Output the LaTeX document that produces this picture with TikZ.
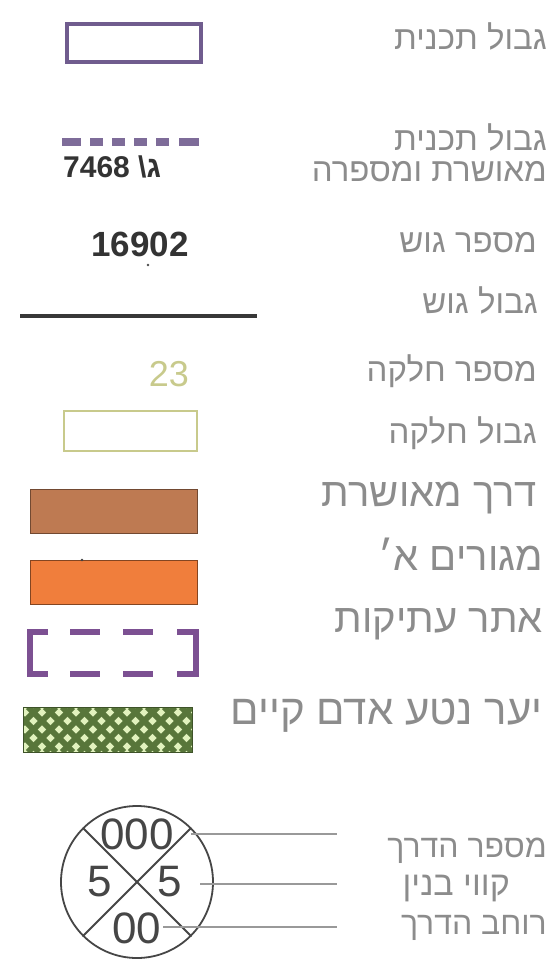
\documentclass[tikz,border=0pt]{standalone}
\usepackage{fontspec}
\setmainfont{Liberation Sans}
\newfontfamily\hebfont[Script=Hebrew]{Liberation Sans}
\TeXXeTstate=1
\usepackage{xcolor}
\definecolor{planviolet}{RGB}{112,92,142}
\definecolor{antiqviolet}{RGB}{124,80,146}
\definecolor{parcelolive}{RGB}{200,202,140}
\definecolor{roadbrown}{RGB}{190,122,82}
\definecolor{resorange}{RGB}{240,126,60}
\definecolor{forestgreen}{RGB}{88,118,58}
\definecolor{forestlight}{RGB}{226,242,190}
\definecolor{labelgray}{RGB}{140,140,140}
\definecolor{signgray}{RGB}{70,70,70}

\begin{document}
\begin{tikzpicture}[x=1pt,y=-1pt,line join=miter,
  heb/.style={anchor=base east,inner sep=0pt,text=labelgray,font=\hebfont\fontsize{33}{31}\selectfont},
  hebbig/.style={heb,font=\hebfont\fontsize{40}{40}\selectfont},
  swatch/.style={rectangle,inner sep=0pt,outer sep=0pt},
  signnum/.style={inner sep=0pt,text=signgray,font=\fontsize{44}{44}\selectfont},
  leader/.style={gray!80,line width=1.4pt}]
\useasboundingbox[fill=white] (0,0) rectangle (557,963);
\node[swatch,draw=planviolet,line width=4.5pt,minimum width=134,minimum height=38] (plan) at (134,43) {};
\node[heb] (lplan) at (547,50) {\beginR גבול תכנית\endR};
\draw[planviolet!90,line width=8pt,dash pattern=on 19pt off 9pt on 13pt off 9pt on 13pt off 9pt on 13pt off 9pt on 13pt off 10pt on 20pt] (62,142) -- (199,142);
\node[anchor=base west,inner sep=0pt,text=black!80,font=\bfseries\fontsize{30}{30}\selectfont] (planno) at (63,177) {\beginR ג\textbackslash\ \beginL 7468\endL\endR};
\node[heb,align=right] (lapproved) at (547,181) {\beginR גבול תכנית\endR\\\beginR מאושרת ומספרה\endR};
\node[inner sep=0pt,text=black!80,font=\bfseries\fontsize{35}{35}\selectfont] (blockno) at (140,244) {16902};
\fill[black!70] (148,265) circle (1.3);
\node[heb] (lblockno) at (537,252) {\beginR מספר גוש\endR};
\draw[black!78,line width=3.5pt] (20,316) -- (257,316);
\node[heb] (lblock) at (538,313) {\beginR גבול גוש\endR};
\node[inner sep=0pt,text=parcelolive,font=\fontsize{36}{36}\selectfont] (parcelno) at (169,374) {23};
\node[heb] (lparcelno) at (537,381) {\beginR מספר חלקה\endR};
\node[swatch,draw=parcelolive,line width=1.5pt,minimum width=133,minimum height=40] (parcel) at (130.5,431) {};
\node[heb] (lparcel) at (537,443) {\beginR גבול חלקה\endR};
\node[swatch,fill=roadbrown,draw=roadbrown!60!black,line width=1pt,minimum width=167,minimum height=44] (road) at (113.5,511) {};
\node[hebbig] (lroad) at (537,506) {\beginR דרך מאושרת\endR};
\node[swatch,fill=resorange,draw=resorange!55!black,line width=1pt,minimum width=167,minimum height=44] (resid) at (113.5,582) {};
\fill[black!75] (82,560) circle (1.3);
\node[hebbig] (lresid) at (543,570) {\beginR מגורים א׳\endR};
\draw[antiqviolet,line width=6pt] (48,632) -- (30,632) -- (30,674) -- (48,674);
\draw[antiqviolet,line width=6pt] (177,632) -- (196,632) -- (196,674) -- (177,674);
\foreach \y in {632,674}{
  \draw[antiqviolet,line width=6pt] (70,\y) -- (100,\y);
  \draw[antiqviolet,line width=6pt] (123,\y) -- (153,\y);
}
\node[hebbig] (lantiq) at (543,632) {\beginR אתר עתיקות\endR};
\begin{scope}
\clip (23,707) rectangle (192,752);
\fill[forestlight] (23,707) rectangle (192,752);
\foreach \k in {-40,-23,...,200}{
  \draw[forestgreen,line width=5.8pt] (\k,707) -- ++(45,45);
  \draw[forestgreen,line width=5.8pt] (\k,752) -- ++(45,-45);
}
\end{scope}
\draw[forestgreen!70!black,line width=1pt] (23,707) rectangle (192,752);
\node[hebbig,font=\hebfont\fontsize{42}{42}\selectfont] (lforest) at (543,724) {\beginR יער נטע אדם קיים\endR};
\node[draw=signgray,line width=1.8pt,circle,minimum size=152,inner sep=0pt] (sign) at (137,882) {};
\draw[signgray,line width=1.8pt] (sign.north west) -- (sign.south east);
\draw[signgray,line width=1.8pt] (sign.north east) -- (sign.south west);
\node[signnum] (roadno) at (137,834) {000};
\node[signnum] (setbackl) at (100,882) {5};
\node[signnum] (setbackr) at (170,882) {5};
\node[signnum] (roadwidth) at (137,928) {00};
\coordinate (ano) at (191,834);
\coordinate (anoend) at (337,834);
\coordinate (aset) at (200,884);
\coordinate (asetend) at (337,884);
\coordinate (awid) at (163,927);
\coordinate (awidend) at (337,927);
\draw[leader] (ano) -- (anoend);
\draw[leader] (aset) -- (asetend);
\draw[leader] (awid) -- (awidend);
\node[heb,font=\hebfont\fontsize{32}{32}\selectfont] (lroadno) at (547,857) {\beginR מספר הדרך\endR};
\node[heb,font=\hebfont\fontsize{34}{34}\selectfont] (lsetback) at (510,895) {\beginR קווי בנין\endR};
\node[heb,font=\hebfont\fontsize{32}{32}\selectfont] (lroadwidth) at (547,934) {\beginR רוחב הדרך\endR};
\end{tikzpicture}
\end{document}
